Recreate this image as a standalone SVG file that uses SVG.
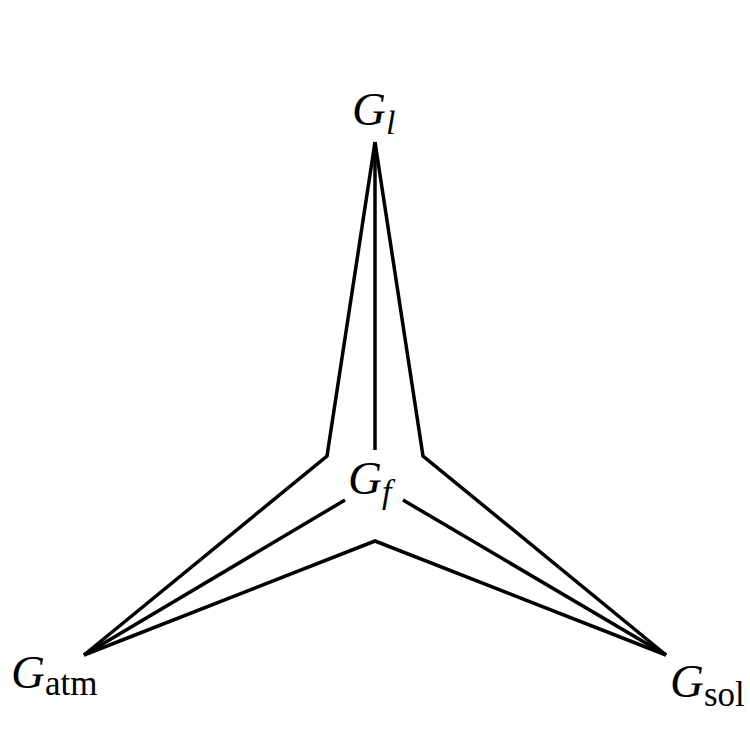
<svg xmlns="http://www.w3.org/2000/svg" width="750" height="750" viewBox="0 0 750 750">
<style>
.e{fill:none;stroke:#000;stroke-width:3.5;stroke-linejoin:miter}
.lab{font-family:'Liberation Serif','Times New Roman',serif;fill:#000}
.g{font-style:italic;font-size:47px}
.sub{font-size:35px}
.isub{font-style:italic;font-size:34px}
</style>
<rect width="750" height="750" fill="#fff"/>
<g id="connectors">
<polyline class="e" points="375,142 327,456 84,655"/>
<polyline class="e" points="375,142 423,456 666,655"/>
<line class="e" x1="375" y1="142" x2="375" y2="450"/>
<polyline class="e" points="84,655 375,541 666,655"/>
<line class="e" x1="84" y1="655" x2="345" y2="500"/>
<line class="e" x1="666" y1="655" x2="403" y2="500"/>
</g>
<g id="Gl"><text class="lab" x="352" y="125"><tspan class="g">G</tspan><tspan class="isub" dy="9">l</tspan></text></g>
<g id="Gf"><text class="lab" x="348" y="494"><tspan class="g">G</tspan><tspan class="isub" dy="9">f</tspan></text></g>
<g id="Gatm"><text class="lab" x="11" y="688"><tspan class="g">G</tspan><tspan class="sub" dy="7">atm</tspan></text></g>
<g id="Gsol"><text class="lab" x="670" y="697"><tspan class="g">G</tspan><tspan class="sub" dy="9">sol</tspan></text></g>
</svg>
